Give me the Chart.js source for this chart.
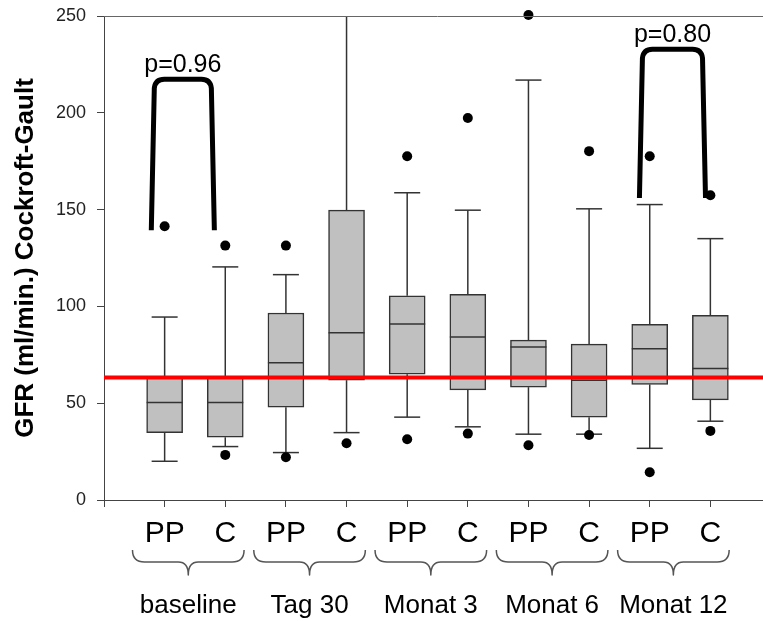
<!DOCTYPE html>
<html>
<head>
<meta charset="utf-8">
<title>GFR Cockroft-Gault</title>
<script src="https://cdn.jsdelivr.net/npm/chart.js@4.4.1/dist/chart.umd.min.js"></script>
<style>
  html, body { margin: 0; padding: 0; background: #fff; overflow: hidden; }
  #wrap { width: 763px; height: 621px; overflow: hidden; }
  canvas { display: block; }
</style>
</head>
<body>
<div id="wrap"><canvas id="gfr-chart" width="780" height="621"></canvas></div>
<script>
// Data =========================================
const categories = ["PP", "C", "PP", "C", "PP", "C", "PP", "C", "PP", "C"];
const groups = ["baseline", "Tag 30", "Monat 3", "Monat 6", "Monat 12"];

const whiskerLow = [20.0, 27.6, 24.5, 34.8, 42.8, 37.8, 34.0, 34.0, 26.7, 40.7];
const q1 = [34.8, 32.4, 47.9, 61.9, 65.0, 56.9, 58.3, 42.8, 59.7, 51.7];
const median = [50.3, 50.3, 70.9, 86.4, 90.9, 84.2, 79.0, 61.9, 78.1, 67.9];
const q3 = [63.5, 63.5, 96.6, 149.7, 105.5, 106.2, 82.6, 80.5, 90.7, 95.4];
const whiskerHigh = [94.5, 120.4, 116.4, 250, 158.7, 149.7, 216.9, 150.4, 152.6, 135.0];
const outlierLow = [null, 23.3, 22.1, 29.3, 31.4, 34.3, 28.3, 33.6, 14.3, 35.7];
const outlierHigh = [141.4, 131.4, 131.4, null, 177.6, 197.3, 250.5, 180.2, 177.6, 157.4];

const cutoff = 63.3;
const yTicks = [0, 50, 100, 150, 200, 250];

// significance brackets (x in category units, y in GFR units)
const bracketFrom = [0.78, 8.83];
const bracketTo = [1.82, 9.92];
const bracketBottom = [139.3, 156];
const bracketTop = [217.3, 232.8];
const pLabels = ["p=0.96", "p=0.80"];

// Styles ========================================
const FONT = '"Liberation Sans", Arial, sans-serif';
const AXIS_COLOR = "#444";
const BOX_W = 36;
const CAP_W = 13;

// Outlier points built from the arrays
const outlierPoints = [];
categories.forEach((c, i) => {
  if (outlierLow[i] !== null) outlierPoints.push({ x: i + 1, y: outlierLow[i] });
  if (outlierHigh[i] !== null) outlierPoints.push({ x: i + 1, y: outlierHigh[i] });
});

// Whiskers, caps and medians, drawn right after the boxes
const boxWhiskers = {
  id: "boxWhiskers",
  afterDatasetDraw(chart, args) {
    if (args.index !== 2) return;
    const { ctx, scales: { x, y } } = chart;
    ctx.save();
    ctx.strokeStyle = "#333";
    ctx.lineWidth = 1.5;
    categories.forEach((c, i) => {
      const px = x.getPixelForValue(i + 1);
      const lines = [
        [px, y.getPixelForValue(q3[i]), px, y.getPixelForValue(whiskerHigh[i])],
        [px, y.getPixelForValue(q1[i]), px, y.getPixelForValue(whiskerLow[i])],
        [px - BOX_W / 2, y.getPixelForValue(median[i]), px + BOX_W / 2, y.getPixelForValue(median[i])],
      ];
      if (whiskerHigh[i] < 250) {
        lines.push([px - CAP_W, y.getPixelForValue(whiskerHigh[i]), px + CAP_W, y.getPixelForValue(whiskerHigh[i])]);
      }
      lines.push([px - CAP_W, y.getPixelForValue(whiskerLow[i]), px + CAP_W, y.getPixelForValue(whiskerLow[i])]);
      lines.forEach(([x1, y1, x2, y2]) => {
        ctx.beginPath();
        ctx.moveTo(x1, y1);
        ctx.lineTo(x2, y2);
        ctx.stroke();
      });
    });
    ctx.restore();
  },
};

// Frame, brackets, braces and group labels
const annotations = {
  id: "annotations",
  afterDraw(chart) {
    const { ctx, chartArea, scales: { x, y } } = chart;
    ctx.save();

    // top frame line
    ctx.strokeStyle = "#666";
    ctx.lineWidth = 1;
    ctx.beginPath();
    ctx.moveTo(chartArea.left, chartArea.top + 0.5);
    ctx.lineTo(chartArea.right, chartArea.top + 0.5);
    ctx.stroke();

    // p-value brackets
    ctx.strokeStyle = "#000";
    ctx.lineWidth = 5;
    ctx.lineJoin = "round";
    ctx.lineCap = "butt";
    for (let b = 0; b < pLabels.length; b++) {
      const xl = x.getPixelForValue(bracketFrom[b]);
      const xr = x.getPixelForValue(bracketTo[b]);
      const yb = y.getPixelForValue(bracketBottom[b]);
      const yt = y.getPixelForValue(bracketTop[b]);
      ctx.beginPath();
      ctx.moveTo(xl, yb);
      ctx.lineTo(xl + 3, yt + 9);
      ctx.quadraticCurveTo(xl + 4, yt, xl + 13, yt);
      ctx.lineTo(xr - 13, yt);
      ctx.quadraticCurveTo(xr - 4, yt, xr - 3, yt + 9);
      ctx.lineTo(xr, yb);
      ctx.stroke();

      ctx.fillStyle = "#000";
      ctx.font = "25px " + FONT;
      ctx.textAlign = "center";
      ctx.textBaseline = "alphabetic";
      ctx.fillText(pLabels[b], (xl + xr) / 2, yt - 7);
    }

    // curly braces under each pair + group labels
    const base = x.top;
    ctx.strokeStyle = "#555";
    ctx.lineWidth = 1.5;
    groups.forEach((g, k) => {
      const first = 2 * k + 1;
      const x0 = x.getPixelForValue(first - 0.53);
      const x1 = x.getPixelForValue(first + 1.31);
      const mid = (x0 + x1) / 2;
      const y0 = base + 50, y1 = base + 62, y2 = base + 75;
      ctx.beginPath();
      ctx.moveTo(x0, y0);
      ctx.quadraticCurveTo(x0, y1, x0 + 12, y1);
      ctx.lineTo(mid - 10, y1);
      ctx.quadraticCurveTo(mid, y1, mid, y2);
      ctx.quadraticCurveTo(mid, y1, mid + 10, y1);
      ctx.lineTo(x1 - 12, y1);
      ctx.quadraticCurveTo(x1, y1, x1, y0);
      ctx.stroke();

      ctx.fillStyle = "#000";
      ctx.font = "26px " + FONT;
      ctx.textAlign = "center";
      ctx.textBaseline = "alphabetic";
      ctx.fillText(g, mid, base + 113);
    });

    ctx.restore();
  },
};

const gfrChart = new Chart(document.getElementById("gfr-chart"), {
  type: "bar",
  data: {
    datasets: [
      {
        type: "line",
        data: [{ x: 0, y: cutoff }, { x: 11, y: cutoff }],
        borderColor: "#ff0000",
        borderWidth: 4,
        pointRadius: 0,
        order: 0,
      },
      {
        type: "line",
        data: outlierPoints,
        showLine: false,
        pointRadius: 5,
        pointBackgroundColor: "#000",
        pointBorderWidth: 0,
        clip: false,
        order: 1,
      },
      {
        type: "bar",
        data: q1.map((v, i) => ({ x: i + 1, y: [v, q3[i]] })),
        backgroundColor: "#c0c0c0",
        borderColor: "#333",
        borderWidth: 1.5,
        borderSkipped: false,
        barThickness: BOX_W,
        order: 2,
      },
    ],
  },
  options: {
    responsive: false,
    animation: false,
    layout: { padding: { top: 16, right: 6, left: 0, bottom: 0 } },
    plugins: {
      legend: { display: false },
      tooltip: { enabled: false },
    },
    scales: {
      x: {
        type: "linear",
        min: 0,
        max: 11,
        offset: false,
        afterFit: (scale) => { scale.height = 121; },
        ticks: {
          stepSize: 1,
          autoSkip: false,
          maxRotation: 0,
          padding: 9,
          color: "#000",
          font: { family: FONT, size: 30 },
          callback: (value) => categories[value - 1] || "",
        },
        grid: { offset: false, drawOnChartArea: false, tickLength: 7, color: AXIS_COLOR },
        border: { color: AXIS_COLOR, width: 1 },
      },
      y: {
        min: 0,
        max: 250,
        afterFit: (scale) => {
          scale.width = 104;
          scale.paddingTop = 0;
          scale.paddingBottom = 0;
        },
        afterBuildTicks: (scale) => { scale.ticks = yTicks.map((v) => ({ value: v })); },
        ticks: {
          padding: 11,
          color: "#222",
          font: { family: FONT, size: 18 },
        },
        grid: { drawOnChartArea: false, tickLength: 7, color: AXIS_COLOR },
        border: { color: AXIS_COLOR, width: 1 },
        title: {
          display: true,
          text: "GFR (ml/min.) Cockroft-Gault",
          color: "#000",
          font: { family: FONT, size: 26, weight: "bold" },
          padding: { top: 10, bottom: 0 },
        },
      },
    },
  },
  plugins: [boxWhiskers, annotations],
});
</script>
</body>
</html>
